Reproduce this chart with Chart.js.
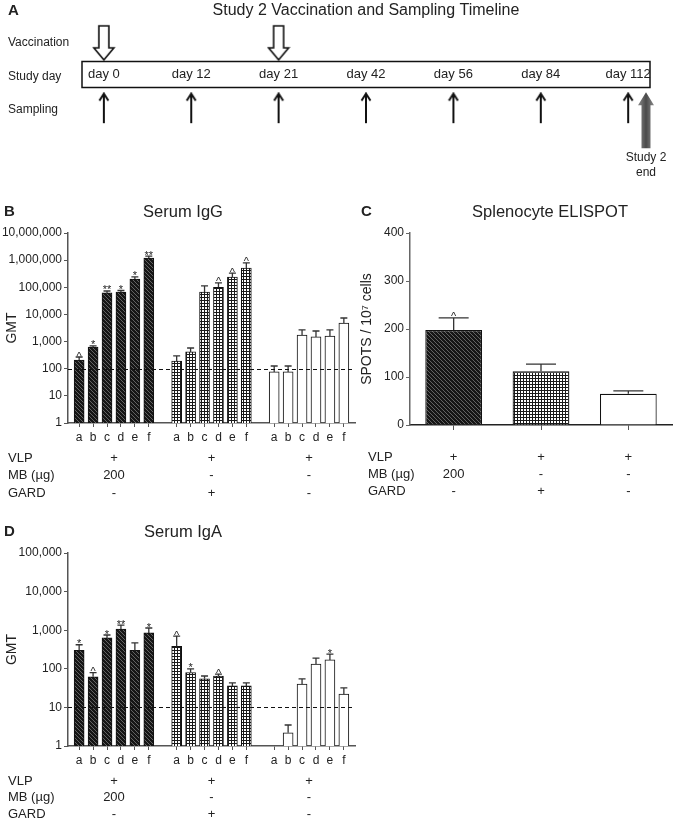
<!DOCTYPE html>
<html>
<head>
<meta charset="utf-8">
<script src="https://cdn.jsdelivr.net/npm/chart.js@4.4.1/dist/chart.umd.min.js"></script>
<style>
  body { margin: 0; background: #fff; }
  #fig { position: relative; width: 673px; height: 822px; overflow: hidden; }
  canvas { position: absolute; }
</style>
</head>
<body>
<div id="fig">
  <canvas id="timeline" width="673" height="190" style="left:0;top:0"></canvas>
  <canvas id="igg" width="366" height="305" style="left:0;top:195px"></canvas>
  <canvas id="elispot" width="333" height="305" style="left:340px;top:195px"></canvas>
  <canvas id="iga" width="366" height="307" style="left:0;top:515px"></canvas>
</div>
<script>
const FONT = "'Liberation Sans', Arial, Helvetica, sans-serif";
Chart.defaults.font.family = FONT;
Chart.defaults.color = '#222';

// --- timeline (panel A)
const timelineDays = ['day 0', 'day 12', 'day 21', 'day 42', 'day 56', 'day 84', 'day 112'];
const timelineRows = ['Vaccination', 'Study day', 'Sampling'];
const vaccinationDays = ['day 0', 'day 21'];
const samplingDays = ['day 0', 'day 12', 'day 21', 'day 42', 'day 56', 'day 84', 'day 112'];

// --- groups and treatment table
const letters = ['a', 'b', 'c', 'd', 'e', 'f'];
const groupNames = ['VLP + MB 200 µg', 'VLP + GARD', 'VLP'];
const tableRows = ['VLP', 'MB (µg)', 'GARD'];
const vlpRow = ['+', '+', '+'];
const mbRow = ['200', '-', '-'];
const gardRow = ['-', '+', '-'];

// --- serum IgG GMT (panel B)
const iggMB = [210, 630, 62000, 66000, 200000, 1200000];
const iggMBErr = [270, 690, 73000, 76000, 240000, 1400000];
const iggMBSig = ['^', '*', '**', '*', '*', '**'];
const iggGARD = [190, 415, 67000, 100000, 240000, 510000];
const iggGARDErr = [295, 580, 112000, 145000, 335000, 790000];
const iggGARDSig = ['', '', '', '^', '^', '^'];
const iggVLP = [76, 76, 1750, 1480, 1600, 4800];
const iggVLPErr = [126, 126, 2700, 2450, 2700, 7400];
const iggVLPSig = ['', '', '', '', '', ''];
const iggTicks = [1, 10, 100, 1000, 10000, 100000, 1000000, 10000000];
const iggCutoff = 100;

// --- splenocyte ELISPOT (panel C)
const spotMeans = [198, 112, 65];
const spotErr = [223, 127, 71];
const spotSig = ['^', '', ''];
const spotTicks = [0, 100, 200, 300, 400];

// --- serum IgA GMT (panel D)
const igaMB = [300, 62, 630, 1070, 300, 850];
const igaMBErr = [420, 80, 750, 1360, 470, 1140];
const igaMBSig = ['*', '^', '*', '**', '', '*'];
const igaGARD = [380, 80, 55, 65, 36, 36];
const igaGARDErr = [700, 100, 65, 73, 43, 43];
const igaGARDSig = ['^', '*', '', '^', '', ''];
const igaVLP = [null, 2.2, 40, 133, 170, 22];
const igaVLPErr = [null, 3.5, 55, 190, 240, 32];
const igaVLPSig = ['', '', '', '', '*', ''];
const igaTicks = [1, 10, 100, 1000, 10000, 100000];
const igaCutoff = 10;

// fills
function makeHatch() {
  const c = document.createElement('canvas');
  c.width = 4; c.height = 4;
  const g = c.getContext('2d');
  g.fillStyle = '#161616';
  g.fillRect(0, 0, 4, 4);
  g.strokeStyle = '#6c6c6c';
  g.lineWidth = 0.9;
  g.beginPath();
  for (let k = -4; k <= 4; k += 4) { g.moveTo(k, 0); g.lineTo(k + 4, 4); }
  g.stroke();
  return g.createPattern(c, 'repeat');
}
function makeGrid() {
  const c = document.createElement('canvas');
  c.width = 3; c.height = 3;
  const g = c.getContext('2d');
  g.fillStyle = '#fff';
  g.fillRect(0, 0, 3, 3);
  g.fillStyle = '#1a1a1a';
  g.fillRect(0, 0, 3, 1);
  g.fillRect(0, 0, 1, 3);
  return g.createPattern(c, 'repeat');
}
const hatchFill = makeHatch();
const gridFill = makeGrid();
const fills = [hatchFill, gridFill, '#fff'];

const tableData = [
  { label: tableRows[0], values: vlpRow },
  { label: tableRows[1], values: mbRow },
  { label: tableRows[2], values: gardRow }
];

// error bars, significance marks, cutoff, titles, treatment table
function barExtras(cfg) {
  return {
    id: 'barExtras',
    afterDatasetsDraw(chart) {
      const { ctx, chartArea: a, scales: { y } } = chart;
      ctx.save();
      chart.data.datasets.forEach((ds, di) => {
        chart.getDatasetMeta(di).data.forEach((bar, i) => {
          const hi = ds.upper[i];
          if (hi == null) return;
          const top = y.getPixelForValue(hi);
          ctx.strokeStyle = '#333';
          ctx.lineWidth = 1.3;
          ctx.beginPath();
          ctx.moveTo(bar.x, bar.y);
          ctx.lineTo(bar.x, top);
          ctx.moveTo(bar.x - cfg.cap / 2, top);
          ctx.lineTo(bar.x + cfg.cap / 2, top);
          ctx.stroke();
          const m = ds.marks[i];
          if (m) {
            ctx.fillStyle = '#222';
            ctx.font = `11px ${FONT}`;
            ctx.textAlign = 'center';
            ctx.textBaseline = 'alphabetic';
            ctx.fillText(m, bar.x, top + 2.5);
          }
        });
      });

      if (cfg.cutoff != null) {
        const yy = Math.round(y.getPixelForValue(cfg.cutoff)) + 0.5;
        ctx.strokeStyle = '#111';
        ctx.lineWidth = 1;
        ctx.setLineDash([4, 3]);
        ctx.beginPath();
        ctx.moveTo(a.left, yy);
        ctx.lineTo(a.right, yy);
        ctx.stroke();
        ctx.setLineDash([]);
      }

      ctx.fillStyle = '#222';
      ctx.textBaseline = 'middle';
      ctx.font = `16.5px ${FONT}`;
      ctx.textAlign = 'center';
      ctx.fillText(cfg.title, cfg.titleX, a.top - 21);
      ctx.font = `bold 15px ${FONT}`;
      ctx.textAlign = 'left';
      ctx.fillText(cfg.letter, cfg.letterX, a.top - 21);

      const centers = cfg.centers(chart);
      ctx.font = `13px ${FONT}`;
      tableData.forEach((row, r) => {
        const yy = a.bottom + cfg.tableTop + r * cfg.tableGap;
        ctx.textAlign = 'left';
        ctx.fillText(row.label, cfg.tableX, yy);
        ctx.textAlign = 'center';
        row.values.forEach((v, g) => ctx.fillText(v, centers[g], yy));
      });
      ctx.restore();
    }
  };
}

function groupCenters(chart) {
  return chart.data.datasets.map((ds, di) => {
    const bars = chart.getDatasetMeta(di).data;
    return (bars[0].x + bars[bars.length - 1].x) / 2;
  });
}

function gmtChart(id, o) {
  const step = letters.length + 1;
  const pos = [];
  o.groups.forEach((g, gi) => letters.forEach((l, i) => pos.push(gi * step + i)));
  return new Chart(document.getElementById(id), {
    type: 'bar',
    data: {
      datasets: o.groups.map((g, gi) => ({
        label: groupNames[gi],
        data: g.gmt.map((v, i) => ({ x: gi * step + i, y: v })),
        upper: g.upper,
        marks: g.marks,
        backgroundColor: fills[gi],
        borderColor: '#111',
        borderWidth: 1,
        barThickness: 10,
        grouped: false
      }))
    },
    options: {
      responsive: false,
      animation: false,
      events: [],
      layout: { padding: { top: 38, right: 11, bottom: o.padBottom, left: 0 } },
      plugins: { legend: { display: false }, tooltip: { enabled: false } },
      scales: {
        x: {
          type: 'linear',
          min: pos[0] - 0.8,
          max: pos[pos.length - 1] + 0.8,
          offset: false,
          afterBuildTicks(s) { s.ticks = pos.map(v => ({ value: v })); },
          ticks: { callback: v => letters[v % step], font: { size: 12 }, color: '#222', padding: 3, maxRotation: 0, autoSkip: false },
          grid: { drawOnChartArea: false, offset: false, color: '#555', tickLength: 4 },
          border: { color: '#555', width: 1.5 },
          afterFit(s) { s.height = 20; }
        },
        y: {
          type: 'logarithmic',
          min: o.ticks[0],
          max: o.ticks[o.ticks.length - 1],
          afterBuildTicks(s) { s.ticks = o.ticks.map(v => ({ value: v })); },
          ticks: { callback: v => v.toLocaleString('en-US'), font: { size: 12 }, color: '#222', padding: 2 },
          grid: { drawOnChartArea: false, color: '#555', tickLength: 4 },
          border: { color: '#555', width: 1.5 },
          title: { display: true, text: 'GMT', font: { size: 14 }, color: '#222', padding: { top: 4, bottom: 0 } },
          afterFit(s) { s.width = 68; }
        }
      }
    },
    plugins: [barExtras({
      cap: 7, cutoff: o.cutoff, title: o.title, titleX: 183, letter: o.letter, letterX: 4,
      tableX: 8, tableTop: 35, tableGap: o.tableGap, centers: groupCenters
    })]
  });
}

// panel A
function hollowArrow() {
  const c = document.createElement('canvas');
  c.width = 24; c.height = 38;
  const g = c.getContext('2d');
  g.fillStyle = '#fff';
  g.strokeStyle = '#111';
  g.lineWidth = 1.6;
  g.beginPath();
  g.moveTo(7, 2); g.lineTo(17, 2); g.lineTo(17, 24); g.lineTo(22, 24);
  g.lineTo(12, 36); g.lineTo(2, 24); g.lineTo(7, 24); g.closePath();
  g.fill(); g.stroke();
  return c;
}
function thinArrow() {
  const c = document.createElement('canvas');
  c.width = 12; c.height = 36;
  const g = c.getContext('2d');
  g.strokeStyle = '#111';
  g.lineWidth = 2;
  g.beginPath();
  g.moveTo(6, 2); g.lineTo(6, 31);
  g.moveTo(1.5, 8.5); g.lineTo(6, 1.5); g.lineTo(10.5, 8.5);
  g.stroke();
  return c;
}

const timelineExtras = {
  id: 'timelineExtras',
  beforeDatasetsDraw(chart) {
    const { ctx, chartArea: a, scales: { x, y } } = chart;
    const rowY = y.getPixelForValue(timelineRows.indexOf('Study day'));
    const sampY = y.getPixelForValue(timelineRows.indexOf('Sampling'));
    ctx.save();
    ctx.strokeStyle = '#111';
    ctx.lineWidth = 1.5;
    ctx.strokeRect(a.left, rowY - 15, a.right - a.left, 26);

    ctx.fillStyle = '#222';
    ctx.textBaseline = 'middle';
    ctx.textAlign = 'center';
    ctx.font = `13px ${FONT}`;
    timelineDays.forEach((d, i) => ctx.fillText(d, x.getPixelForValue(i), rowY - 2));

    ctx.font = `16px ${FONT}`;
    ctx.fillText('Study 2 Vaccination and Sampling Timeline', (a.left + a.right) / 2, 11);
    ctx.font = `bold 15px ${FONT}`;
    ctx.textAlign = 'left';
    ctx.fillText('A', 8, 11);

    // study end marker
    const ex = a.right - 4, top = sampY - 18, bottom = top + 56;
    const grad = ctx.createLinearGradient(ex - 8, 0, ex + 8, 0);
    grad.addColorStop(0, '#8a8a8a');
    grad.addColorStop(0.5, '#4a4a4a');
    grad.addColorStop(1, '#8a8a8a');
    ctx.fillStyle = grad;
    ctx.beginPath();
    ctx.moveTo(ex - 4.5, bottom); ctx.lineTo(ex - 4.5, top + 13); ctx.lineTo(ex - 8, top + 13);
    ctx.lineTo(ex, top); ctx.lineTo(ex + 8, top + 13); ctx.lineTo(ex + 4.5, top + 13);
    ctx.lineTo(ex + 4.5, bottom); ctx.closePath();
    ctx.fill();
    ctx.fillStyle = '#222';
    ctx.textAlign = 'center';
    ctx.font = `12px ${FONT}`;
    ctx.fillText('Study 2', ex, bottom + 10);
    ctx.fillText('end', ex, bottom + 25);
    ctx.restore();
  }
};

new Chart(document.getElementById('timeline'), {
  type: 'scatter',
  data: {
    datasets: [
      {
        label: 'Vaccination',
        data: vaccinationDays.map(d => ({ x: timelineDays.indexOf(d), y: 'Vaccination' })),
        pointStyle: hollowArrow(),
        pointRadius: 10
      },
      {
        label: 'Sampling',
        data: samplingDays.map(d => ({ x: timelineDays.indexOf(d), y: 'Sampling' })),
        pointStyle: thinArrow(),
        pointRadius: 10
      }
    ]
  },
  options: {
    responsive: false,
    animation: false,
    events: [],
    layout: { padding: { top: 26, right: 23, bottom: 63, left: 8 } },
    plugins: { legend: { display: false }, tooltip: { enabled: false } },
    scales: {
      x: { type: 'linear', min: -0.25, max: timelineDays.length - 0.75, display: false },
      y: {
        type: 'category',
        labels: timelineRows,
        offset: true,
        grid: { display: false },
        border: { display: false },
        ticks: { crossAlign: 'far', font: { size: 12 }, color: '#222', autoSkip: false },
        afterFit(s) { s.width = 74; }
      }
    }
  },
  plugins: [timelineExtras]
});

// panel B
gmtChart('igg', {
  title: 'Serum IgG', letter: 'B', ticks: iggTicks, cutoff: iggCutoff, padBottom: 57, tableGap: 17.5,
  groups: [
    { gmt: iggMB, upper: iggMBErr, marks: iggMBSig },
    { gmt: iggGARD, upper: iggGARDErr, marks: iggGARDSig },
    { gmt: iggVLP, upper: iggVLPErr, marks: iggVLPSig }
  ]
});

// panel D
gmtChart('iga', {
  title: 'Serum IgA', letter: 'D', ticks: igaTicks, cutoff: igaCutoff, padBottom: 56, tableGap: 16.5,
  groups: [
    { gmt: igaMB, upper: igaMBErr, marks: igaMBSig },
    { gmt: igaGARD, upper: igaGARDErr, marks: igaGARDSig },
    { gmt: igaVLP, upper: igaVLPErr, marks: igaVLPSig }
  ]
});

// panel C
new Chart(document.getElementById('elispot'), {
  type: 'bar',
  data: {
    labels: groupNames,
    datasets: [{
      data: spotMeans,
      upper: spotErr,
      marks: spotSig,
      backgroundColor: fills,
      borderColor: '#111',
      borderWidth: 1.2,
      barPercentage: 0.65,
      categoryPercentage: 1
    }]
  },
  options: {
    responsive: false,
    animation: false,
    events: [],
    layout: { padding: { top: 38, right: 1, bottom: 55, left: 0 } },
    plugins: { legend: { display: false }, tooltip: { enabled: false } },
    scales: {
      x: {
        ticks: { display: false },
        grid: { drawOnChartArea: false, offset: false, color: '#555', tickLength: 5 },
        border: { color: '#222', width: 1.5 },
        afterFit(s) { s.height = 20; }
      },
      y: {
        min: spotTicks[0],
        max: spotTicks[spotTicks.length - 1],
        afterBuildTicks(s) { s.ticks = spotTicks.map(v => ({ value: v })); },
        ticks: { font: { size: 12 }, color: '#222', padding: 2 },
        grid: { drawOnChartArea: false, color: '#666', tickLength: 4 },
        border: { color: '#666', width: 1.5 },
        title: { display: true, text: 'SPOTS / 10⁷ cells', font: { size: 14 }, color: '#222', padding: { top: 19, bottom: 0 } },
        afterFit(s) { s.width = 70; }
      }
    }
  },
  plugins: [barExtras({
    cap: 30, cutoff: null, title: 'Splenocyte ELISPOT', titleX: 210, letter: 'C', letterX: 21,
    tableX: 28, tableTop: 32, tableGap: 17,
    centers: chart => chart.getDatasetMeta(0).data.map(b => b.x)
  })]
});
</script>
</body>
</html>
